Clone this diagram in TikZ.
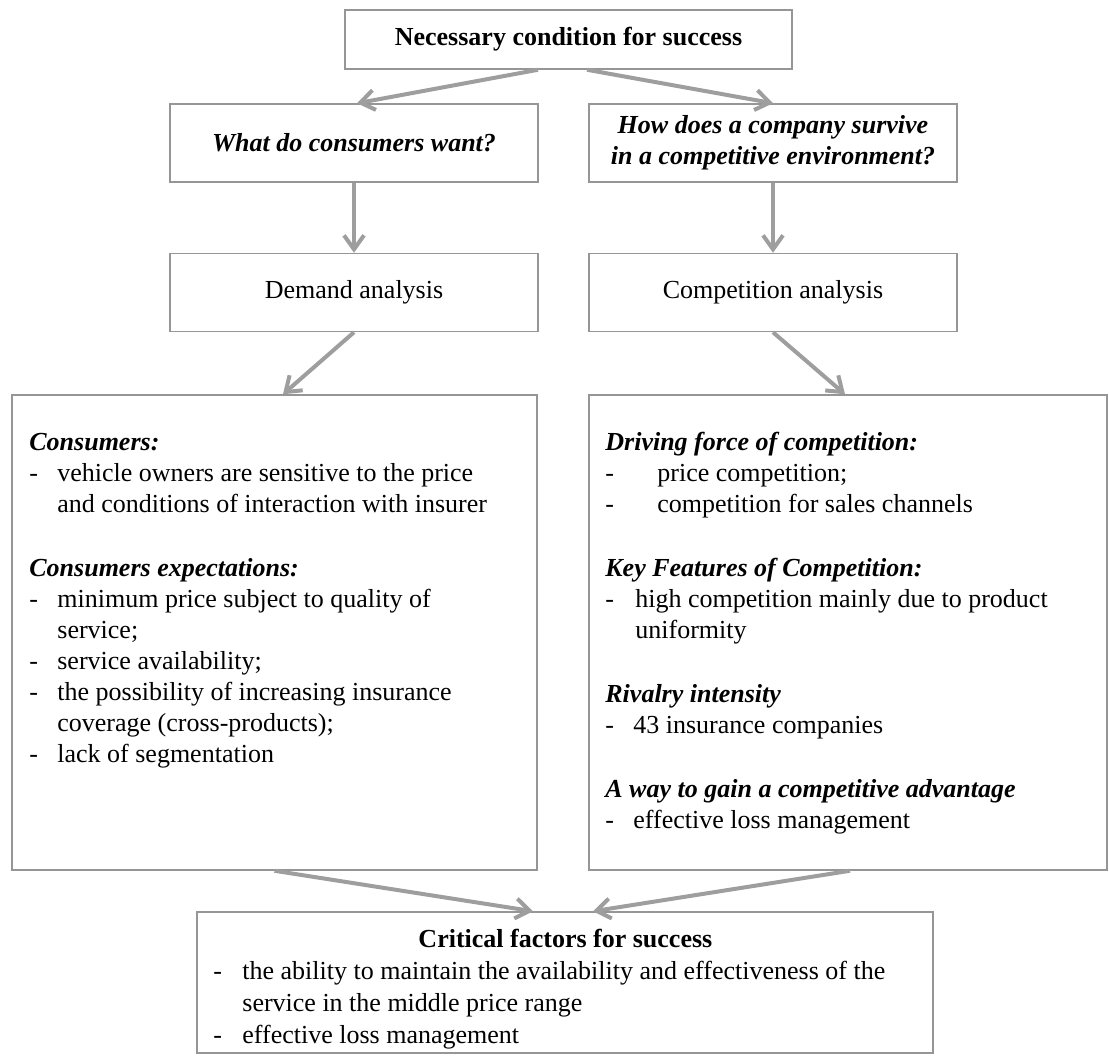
\documentclass[tikz,border=0pt]{standalone}
\usepackage{fontspec}
\setmainfont{Liberation Serif}
\usepackage{xcolor}
\usetikzlibrary{arrows.meta, positioning}
\definecolor{boxgray}{RGB}{150,150,150}
\definecolor{arrowgray}{RGB}{158,158,158}
\tikzstyle{block} = [rectangle, draw=boxgray, line width=0.75pt, minimum width=184pt, minimum height=39pt, inner sep=0pt, align=center]
\tikzstyle{bigbox} = [rectangle, draw=boxgray, line width=0.75pt, minimum height=237.5pt, inner sep=0pt]
\tikzstyle{listtext} = [text width=245pt, align=flush left, inner sep=0pt, anchor=north west]
\tikzstyle{arrow} = [line width=2pt, draw=arrowgray, -{Straight Barb[length=7pt,width=10pt]}]

\newcommand{\dashitem}[2][14pt]{\par\noindent\hangindent=#1\hangafter=1\makebox[#1][l]{-}#2}
\newcommand{\grouphead}[1]{\par\noindent\textbf{\textit{#1}}}
\newcommand{\groupgap}{\par\vspace{16.5pt}}

\begin{document}
\begin{tikzpicture}[x=0.5pt, y=-0.5pt, node distance=35pt, font=\fontsize{13}{15.5}\selectfont]
\useasboundingbox (0,0) rectangle (1109,1057);

\node[block, minimum width=223.5pt, minimum height=29.5pt] (top) at (568.5,39.5) {\textbf{Necessary condition for success}};

\node[block] (want) at (354,143) {\textbf{\textit{What do consumers want?}}};
\node[block] (survive) at (773,143) {\textbf{\textit{How does a company survive}}\\\textbf{\textit{in a competitive environment?}}};

\node[block, below=of want] (demand) {Demand analysis};
\node[block, below=of survive] (compet) {Competition analysis};

\node[bigbox, minimum width=262.5pt] (consumers) at (274.5,632.5) {};
\node[bigbox, minimum width=259pt] (driving) at (848,632.5) {};
\node[bigbox, minimum width=368pt, minimum height=70.5pt] (critical) at (565,982.5) {};

% left column
\node[listtext] (consumerstext) at (29,419) {%
\grouphead{Consumers:}
\dashitem{vehicle owners are sensitive to the price\newline and conditions of interaction with insurer}
\groupgap
\grouphead{Consumers expectations:}
\dashitem{minimum price subject to quality of\newline service;}
\dashitem{service availability;}
\dashitem{the possibility of increasing insurance\newline coverage (cross-products);}
\dashitem{lack of segmentation}};

% right column
\node[listtext] (drivingtext) at (605,419) {%
\grouphead{Driving force of competition:}
\dashitem[26pt]{price competition;}
\dashitem[26pt]{competition for sales channels}
\groupgap
\grouphead{Key Features of Competition:}
\dashitem[15pt]{high competition mainly due to product\newline uniformity}
\groupgap
\grouphead{Rivalry intensity}
\dashitem{43 insurance companies}
\groupgap
\grouphead{A way to gain a competitive advantage}
\dashitem{effective loss management}};

% bottom
\node[listtext, text width=352pt, font=\fontsize{13}{16}\selectfont] (criticaltext) at (213,929) {%
{\centering\textbf{Critical factors for success}\par}
\dashitem[14.5pt]{the ability to maintain the availability and effectiveness of the\newline service in the middle price range}
\dashitem[14.5pt]{effective loss management}};

\draw[arrow] ([xshift=-15.25pt]top.south) -- ([xshift=1.5pt]want.north);
\draw[arrow] ([xshift=9.25pt]top.south) -- (survive.north);
\draw[arrow] (want) -- (demand);
\draw[arrow] (survive) -- (compet);
\draw[arrow] (demand.south) -- ([xshift=4.25pt]consumers.north);
\draw[arrow] (compet.south) -- ([xshift=-1.5pt]driving.north);
\draw[arrow] (consumers.south) -- ([xshift=-16pt]critical.north);
\draw[arrow] ([xshift=1pt]driving.south) -- ([xshift=14pt]critical.north);
\end{tikzpicture}
\end{document}
